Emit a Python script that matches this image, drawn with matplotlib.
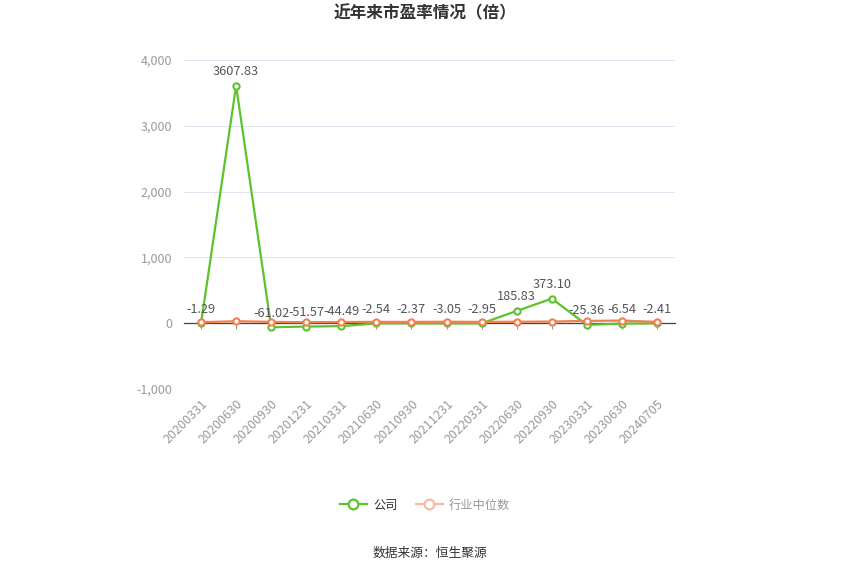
import matplotlib
matplotlib.use("Agg")
import matplotlib.pyplot as plt
from matplotlib.lines import Line2D

plt.rcParams['font.family'] = ['Noto Sans CJK SC', 'DejaVu Sans']

dates = ["20200331", "20200630", "20200930", "20201231", "20210331", "20210630",
         "20210930", "20211231", "20220331", "20220630", "20220930", "20230331",
         "20230630", "20240705"]
company = [-1.29, 3607.83, -61.02, -51.57, -44.49, -2.54, -2.37, -3.05, -2.95,
           185.83, 373.10, -25.36, -6.54, -2.41]
industry = [15, 30, 20, 15, 18, 20, 20, 22, 20, 22, 25, 35, 40, 20]
yticks = [-1000, 0, 1000, 2000, 3000, 4000]

green = "#5bc42b"
orange = "#f2804f"

fig = plt.figure(figsize=(8.5, 5.75), dpi=100)
ax = fig.add_axes([183.5 / 850, 1 - 389 / 575, 491 / 850, 329 / 575])

x = list(range(len(dates)))
ax.plot(x, company, color=green, lw=1.6, marker='o', ms=4.5, mfc='white',
        mec=green, mew=1.5, zorder=3)
ax.plot(x, industry, color=orange, lw=1.6, marker='o', ms=4.5, mfc='white',
        mec=orange, mew=1.5, zorder=4)

for xi, v in zip(x, company):
    ax.annotate(f"{v:.2f}", (xi, v), xytext=(0, 5.5), textcoords='offset points',
                ha='center', va='bottom', fontsize=9.2, color='#555555', zorder=5)

ax.set_xlim(-0.5, len(dates) - 0.5)
ax.set_ylim(-1000, 4000)
ax.set_yticks(yticks)
ax.set_yticklabels([f"{v:,}" for v in yticks])
ax.tick_params(axis='y', length=0, labelsize=9, labelcolor='#999999', pad=8)
ax.grid(axis='y', color='#e0e6f1', lw=0.8)
ax.set_axisbelow(True)
for s in ['top', 'right', 'left']:
    ax.spines[s].set_visible(False)
ax.spines['bottom'].set_position(('data', 0))
ax.spines['bottom'].set_color('#444444')
ax.spines['bottom'].set_linewidth(0.9)
ax.set_xticks(x)
ax.tick_params(axis='x', length=4, color='#999999', labelbottom=False, direction='out')

sec = ax.secondary_xaxis('bottom')
sec.set_xticks(x)
sec.set_xticklabels(dates, rotation=45, ha='right', rotation_mode='anchor')
sec.tick_params(length=0, labelsize=9, labelcolor='#999999', pad=6)
sec.spines['bottom'].set_visible(False)

fig.text(0.5, 1 - 13 / 575, "近年来市盈率情况（倍）", ha='center', va='center',
         fontsize=12, fontweight='bold', color='#333333')

handles = [Line2D([0], [0], color=green, lw=1.6, marker='o', ms=7, mfc='white', mec=green, mew=1.6),
           Line2D([0], [0], color='#f9b9a3', lw=1.6, marker='o', ms=7, mfc='white', mec='#f9b9a3', mew=1.6)]
leg = fig.legend(handles, ["公司", "行业中位数"], loc='center', bbox_to_anchor=(0.5, 1 - 505 / 575),
                 ncol=2, frameon=False, fontsize=8.8, handlelength=2.2, columnspacing=1.5,
                 handletextpad=0.5)
leg.get_texts()[0].set_color('#333333')
leg.get_texts()[1].set_color('#999999')

fig.text(0.506, 1 - 553 / 575, "数据来源：恒生聚源", ha='center', va='center',
         fontsize=9.2, color='#333333')

fig.savefig("out.png", dpi=100)
